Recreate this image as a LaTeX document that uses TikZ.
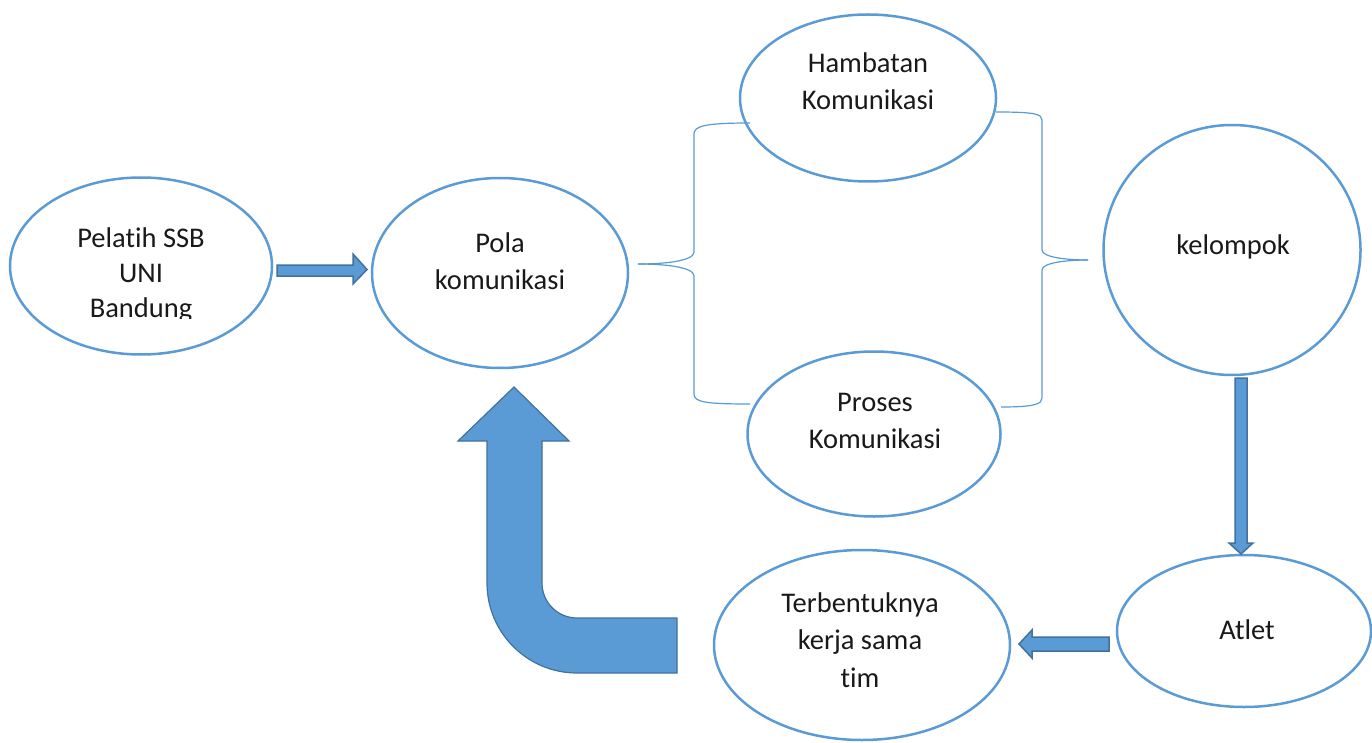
\documentclass[tikz,border=0pt]{standalone}
\usepackage{fontspec}
\setmainfont[Ligatures={NoCommon}]{Carlito}
\usetikzlibrary{shapes.geometric}
\definecolor{bl}{HTML}{5B9BD5}
\definecolor{bld}{HTML}{41719C}
\begin{document}
\begin{tikzpicture}[x=1pt,y=-1pt,
  ell/.style={draw=bl,line width=2.5pt,ellipse,inner sep=0pt},
  txt/.style={font=\fontsize{28.5}{37.5}\selectfont,align=center,text=black!90,inner sep=0pt},
  blk/.style={fill=bl,draw=bld,line width=1.5pt,line join=miter},
  brc/.style={draw=bl,line width=1.2pt}]
\useasboundingbox (0,0) rectangle (1372,743);
% braces
\draw[brc] (750,123) .. controls (705,123) and (694,126) .. (694,134) -- (694,252) .. controls (694,261) and (665,264) .. (638,264);
\draw[brc] (638,264) .. controls (665,264) and (694,267) .. (694,276) -- (694,394) .. controls (694,402) and (705,404) .. (750,404);
\draw[brc] (996,112) .. controls (1035,112) and (1042,114) .. (1042,120) -- (1042,250) .. controls (1042,257) and (1065,260) .. (1088,260);
\draw[brc] (1088,260) .. controls (1065,260) and (1042,263) .. (1042,270) -- (1042,398) .. controls (1042,404) and (1035,407) .. (1001,407);
% ellipses
\node[ell,minimum width=262pt,minimum height=177pt] (pel) at (141,266) {};
\node[ell,minimum width=256pt,minimum height=190pt] (pola) at (500,273) {};
\node[ell,minimum width=256pt,minimum height=167pt] (ham) at (868,98) {};
\node[ell,minimum width=253pt,minimum height=165pt] (pro) at (874,434) {};
\node[ell,minimum width=257pt,minimum height=250pt] (kel) at (1232,250) {};
\node[ell,minimum width=254pt,minimum height=152pt] (atl) at (1244,631) {};
\node[ell,minimum width=296pt,minimum height=190pt] (ter) at (862,645) {};
% texts
\begin{scope}
\clip (40,200) rectangle (250,318);
\node[txt,font=\fontsize{28.5}{35}\selectfont] (peltxt) at (141,275) {Pelatih SSB\\UNI\\Bandung};
\end{scope}
\node[txt] (polatxt) at (500,261) {Pola\\komunikasi};
\node[txt] (hamtxt) at (868,81) {Hambatan\\Komunikasi};
\node[txt] (protxt) at (875,421) {Proses\\Komunikasi};
\node[txt] (keltxt) at (1233,247) {kelompok};
\node[txt] (atltxt) at (1247,630) {Atlet};
\node[txt] (tertxt) at (860,640) {Terbentuknya\\kerja sama\\tim};
% block arrows
\draw[blk] (277,265) -- (353,265) -- (353,254) -- (367,269.5) -- (353,284) -- (353,276) -- (277,276) -- cycle;
\draw[blk] (1235,378) -- (1247,378) -- (1247,543) -- (1253,543) -- (1241,554) -- (1229,543) -- (1235,543) -- cycle;
\draw[blk] (1109,637) -- (1032,637) -- (1032,630) -- (1019,644) -- (1032,658) -- (1032,651) -- (1109,651) -- cycle;
\draw[blk,line width=1.2pt] (514,387) -- (569,441) -- (542,441) -- (542,583)
  arc[start angle=180,end angle=90,radius=35] -- (677,618) -- (677,673) -- (577,673)
  arc[start angle=90,end angle=180,radius=90] -- (487,441) -- (458,441) -- cycle;
\end{tikzpicture}
\end{document}
